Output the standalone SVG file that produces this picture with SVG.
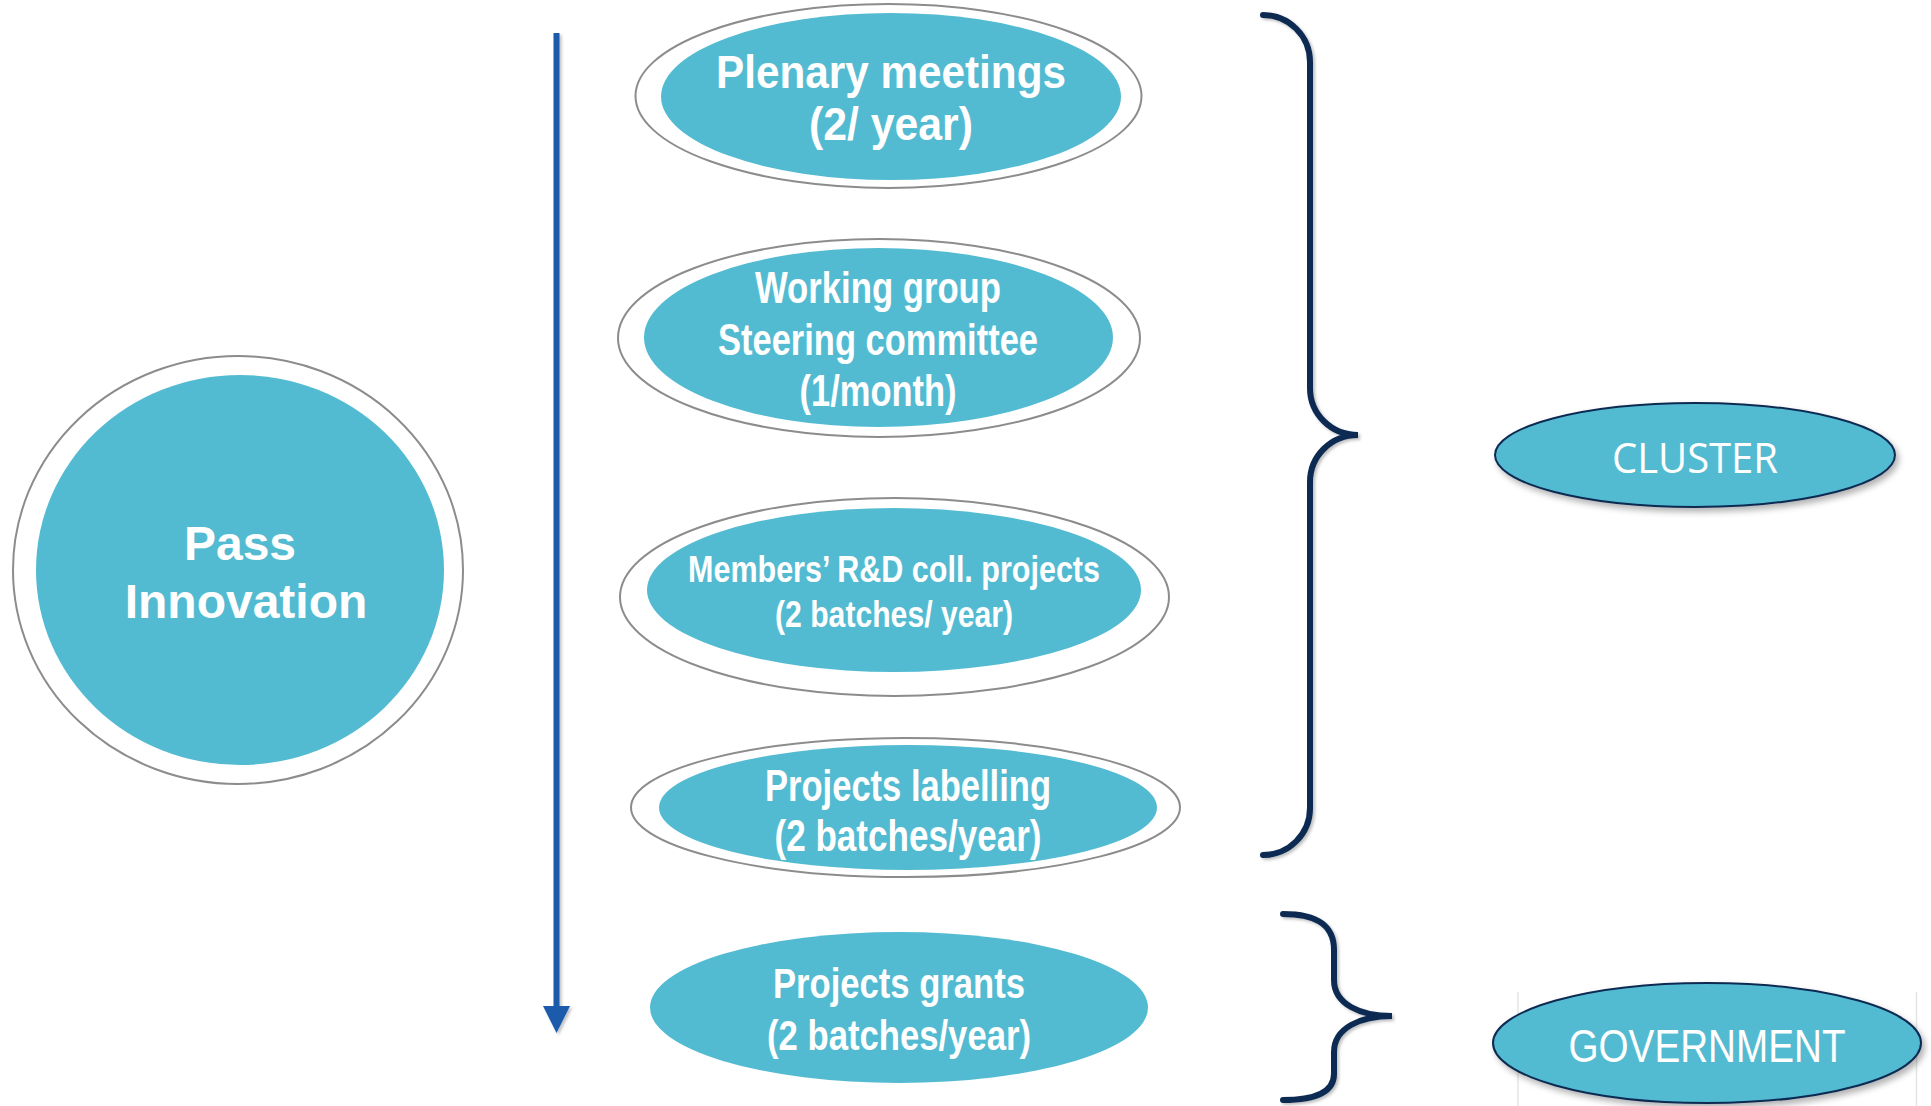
<svg xmlns="http://www.w3.org/2000/svg" width="1931" height="1106" viewBox="0 0 1931 1106">
<defs>
<style>
.ring{fill:#ffffff;stroke:#8c8c8c;stroke-width:2}
.fill{fill:#53bbd1}
.lbl{font-family:"Liberation Sans",Arial,sans-serif;font-weight:bold;fill:#ffffff;text-anchor:middle}
.reg{font-family:"Open Sans","Liberation Sans",Arial,sans-serif;fill:#ffffff;text-anchor:middle}
.org{fill:#53bbd1;stroke:#0d2b52;stroke-width:2}
.brace{fill:none;stroke:#0d2b52;stroke-width:6;stroke-linecap:round}
</style>
<filter id="sh" x="-10%" y="-10%" width="130%" height="140%">
<feDropShadow dx="3" dy="4" stdDeviation="3" flood-color="#000" flood-opacity="0.3"/>
</filter>
<filter id="sh2" x="-20%" y="-5%" width="150%" height="110%">
<feDropShadow dx="2" dy="2" stdDeviation="1.5" flood-color="#000" flood-opacity="0.25"/>
</filter>
</defs>
<rect width="1931" height="1106" fill="#ffffff"/>

<g id="pass-innovation">
<ellipse class="ring" cx="238" cy="570" rx="225" ry="214"/>
<ellipse class="fill" cx="240" cy="570" rx="204" ry="195"/>
<text class="lbl" font-size="48" x="240" y="560">Pass</text>
<text class="lbl" font-size="48" x="246" y="618">Innovation</text>
</g>

<g id="plenary">
<ellipse class="ring" cx="888.5" cy="96" rx="253" ry="92"/>
<ellipse class="fill" cx="891" cy="96.5" rx="230" ry="83.5"/>
<text class="lbl" font-size="46" x="891" y="88" textLength="350" lengthAdjust="spacingAndGlyphs">Plenary meetings</text>
<text class="lbl" font-size="46" x="891" y="140" textLength="164" lengthAdjust="spacingAndGlyphs">(2/ year)</text>
</g>

<g id="working-group">
<ellipse class="ring" cx="879" cy="338" rx="261" ry="99"/>
<ellipse class="fill" cx="878.5" cy="337.5" rx="234.5" ry="89.5"/>
<text class="lbl" font-size="44" x="878" y="303" textLength="246" lengthAdjust="spacingAndGlyphs">Working group</text>
<text class="lbl" font-size="44" x="878" y="355" textLength="320" lengthAdjust="spacingAndGlyphs">Steering committee</text>
<text class="lbl" font-size="44" x="878" y="406" textLength="157" lengthAdjust="spacingAndGlyphs">(1/month)</text>
</g>

<g id="members-projects">
<ellipse class="ring" cx="894.5" cy="597" rx="274.5" ry="99"/>
<ellipse class="fill" cx="894" cy="590" rx="247" ry="82"/>
<text class="lbl" font-size="37" x="894" y="582" textLength="412" lengthAdjust="spacingAndGlyphs">Members’ R&amp;D coll. projects</text>
<text class="lbl" font-size="37" x="894" y="627" textLength="238" lengthAdjust="spacingAndGlyphs">(2 batches/ year)</text>
</g>

<g id="projects-labelling">
<ellipse class="ring" cx="905.5" cy="807.5" rx="274.5" ry="69.5"/>
<ellipse class="fill" cx="908" cy="807.5" rx="249" ry="62.5"/>
<text class="lbl" font-size="44" x="908" y="801" textLength="286" lengthAdjust="spacingAndGlyphs">Projects labelling</text>
<text class="lbl" font-size="44" x="908" y="851" textLength="267" lengthAdjust="spacingAndGlyphs">(2 batches/year)</text>
</g>

<g id="projects-grants">
<ellipse class="fill" cx="899" cy="1007.5" rx="249" ry="75.5"/>
<text class="lbl" font-size="42" x="899" y="998" textLength="252" lengthAdjust="spacingAndGlyphs">Projects grants</text>
<text class="lbl" font-size="42" x="899" y="1050" textLength="264" lengthAdjust="spacingAndGlyphs">(2 batches/year)</text>
</g>

<g id="cluster">
<ellipse class="org" cx="1695" cy="455" rx="200" ry="52" filter="url(#sh)"/>
<text class="reg" font-size="42" x="1695" y="473" textLength="166" lengthAdjust="spacingAndGlyphs">CLUSTER</text>
</g>

<g id="government">
<line x1="1518" y1="992" x2="1518" y2="1106" stroke="#e4e4e4" stroke-width="1.5"/>
<line x1="1916.5" y1="992" x2="1916.5" y2="1106" stroke="#e4e4e4" stroke-width="1.5"/>
<ellipse class="org" cx="1707" cy="1043" rx="214" ry="60" filter="url(#sh)"/>
<text class="reg" font-size="47" x="1707" y="1062" textLength="277" lengthAdjust="spacingAndGlyphs" style="font-family:'Liberation Sans',Arial,sans-serif">GOVERNMENT</text>
</g>

<g id="connectors">
<g filter="url(#sh2)">
<line x1="556.5" y1="33" x2="556.5" y2="1010" stroke="#1b5aab" stroke-width="6"/>
<polygon points="543,1006 570,1006 556.5,1033" fill="#1b5aab"/>
</g>
<path class="brace" filter="url(#sh2)" d="M1263,15 C1289,15 1310,36 1310,62 L1310,388 C1310,414 1331,435 1358,435 C1331,435 1310,456 1310,482 L1310,808 C1310,834 1289,855 1263,855"/>
<path class="brace" filter="url(#sh2)" d="M1283,914 C1312,914 1334,922 1334,950 L1334,980 C1334,1004 1360,1016 1392,1016 C1360,1016 1334,1028 1334,1052 L1334,1074 C1334,1094 1312,1100 1283,1100"/>
</g>
</svg>
